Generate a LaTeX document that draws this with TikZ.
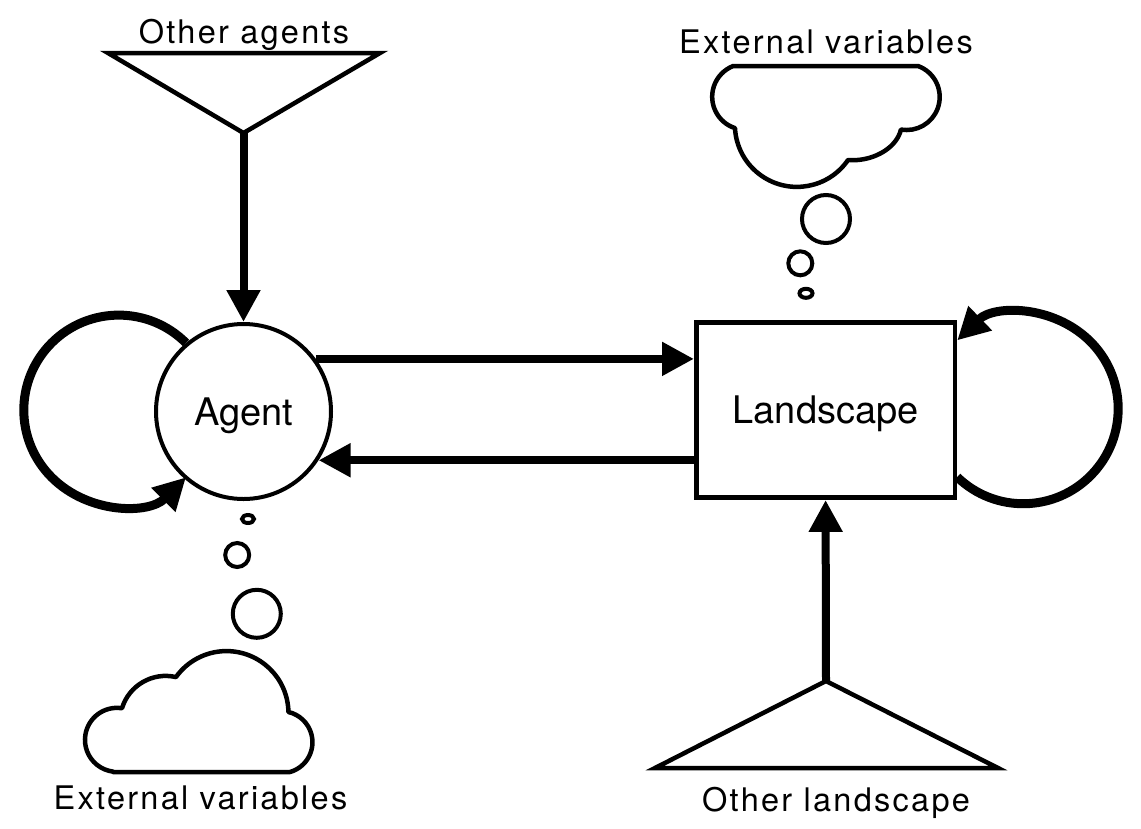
\documentclass[tikz,border=0pt]{standalone}
\usepackage{fontspec}
\setmainfont{TeX Gyre Heros}
\newfontfamily\lblfont{TeX Gyre Heros}[LetterSpace=7]
\usetikzlibrary{arrows.meta}
\begin{document}
\begin{tikzpicture}[x=1pt,y=-1pt,
  tipstyle/.style={-{Triangle[length=32pt,width=32pt]}},
  flow/.style={line width=8pt, tipstyle},
  selfloop/.style={line width=9pt, tipstyle},
  outline/.style={line width=4.5pt, line join=miter},
  bubble/.style={line width=4pt},
  lbl/.style={font=\lblfont\fontsize{32.5}{39}\selectfont, inner sep=0pt, anchor=base},
  nodelbl/.style={font=\fontsize{38}{45}\selectfont, text height=27pt, text depth=0pt}]
\useasboundingbox (0,0) rectangle (1141,828);

% main nodes
\node[circle, draw, line width=4pt, minimum size=175pt, inner sep=0pt, nodelbl] (agent) at (243.5,411.5) {Agent};
\node[rectangle, draw, line width=4.5pt, minimum width=258.7pt, minimum height=175.4pt, inner sep=0pt, nodelbl] (land) at (825.6,410) {Landscape};

% triangles
\coordinate (ota) at (243.5,133);
\coordinate (olt) at (826,681);
\draw[outline] (108,53) -- (380,53) -- (ota) -- cycle;
\draw[outline] (655,768) -- (998,768) -- (olt) -- cycle;

% labels
\node[lbl] (lothers) at (244,43) {Other agents};
\node[lbl] (lext1) at (826,53) {External variables};
\node[lbl] (lext2) at (200.5,809) {External variables};
\node[lbl] (lland) at (836,811) {Other landscape};

% connectors
\draw[flow] (ota) -- (agent.north);
\draw[flow] (olt) -- (land.south);
\draw[flow] (agent.36) -- (agent.36 -| land.west);
\draw[flow] (land.west |- agent.-33) -- (agent.-33);
\draw[selfloop] (agent.130) arc[start angle=-45, end angle=-315, radius=95];
\draw[selfloop] (land.-27.4) arc[start angle=134, end angle=-134, radius=95];

% top-right cloud
\draw[outline, line join=round] (733.4,66) -- (918,66)
  arc[start angle=-70, end angle=100, radius=33]
  .. controls (896,150) and (870,162) .. (848,160)
  arc[start angle=34.5, end angle=177, radius=62]
  arc[start angle=108, end angle=249, radius=33] -- cycle;
\draw[bubble] (826,219) circle[radius=24];
\draw[bubble] (800.3,263.3) circle[radius=12];
\draw[bubble] (806,293.3) ellipse[x radius=6.5, y radius=4.5];

% bottom-left cloud
\draw[outline, line join=round] (113,772) -- (290,772)
  arc[start angle=74, end angle=-77, radius=31]
  arc[start angle=-1, end angle=-144.5, radius=62]
  arc[start angle=-77, end angle=-163, radius=45.7]
  arc[start angle=-81, end angle=-263, radius=32] -- cycle;
\draw[bubble] (248,519) ellipse[x radius=6, y radius=4];
\draw[bubble] (237.2,555) circle[radius=12];
\draw[bubble] (256.8,613.8) circle[radius=24];
\end{tikzpicture}
\end{document}
